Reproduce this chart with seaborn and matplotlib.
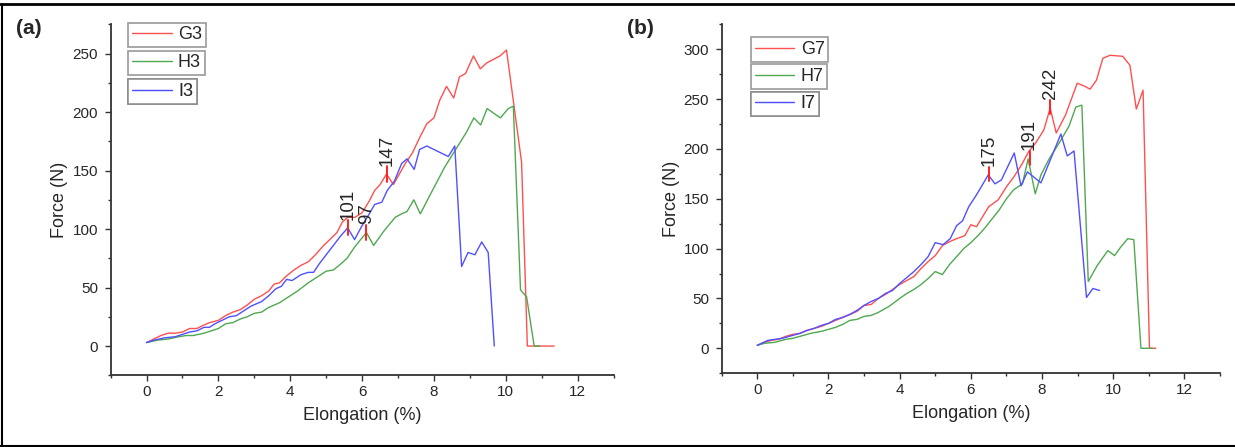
import numpy as np
import pandas as pd
import matplotlib
matplotlib.use('Agg')
import matplotlib.pyplot as plt
from matplotlib.lines import Line2D
from matplotlib.ticker import MultipleLocator
import seaborn as sns

# ---- panel (a) data: elongation (%) vs force (N)
G3_x = [0, 0.2, 0.4, 0.6, 0.8, 1.0, 1.2, 1.4, 1.6, 1.75, 2.0, 2.2, 2.4, 2.6, 2.8, 3.0, 3.2, 3.4, 3.55, 3.7,
        3.9, 4.1, 4.3, 4.5, 4.7, 4.9, 5.1, 5.3, 5.45, 5.6, 5.8, 6.0, 6.2, 6.35, 6.5, 6.68, 6.87, 7.0, 7.2, 7.4,
        7.6, 7.8, 8.0, 8.16, 8.35, 8.55, 8.71, 8.88, 9.1, 9.29, 9.47, 9.84, 10.02, 10.44, 10.6, 11.35]
G3_y = [3, 6, 9, 11, 11, 12, 15, 15, 18, 20, 22, 26, 29, 31, 35, 40, 43, 47, 53, 54,
        60, 65, 69, 72, 78, 85, 91, 97, 106, 110, 110, 114, 124, 133, 138, 147, 138, 145, 156, 165,
        178, 190, 195, 210, 222, 212, 230, 233, 248, 237, 242, 248, 253, 157, 0, 0]

H3_x = [0, 0.3, 0.6, 0.9, 1.1, 1.3, 1.6, 1.8, 2.0, 2.2, 2.4, 2.6, 2.8, 3.0, 3.2, 3.4, 3.7, 4.0, 4.2, 4.5,
        4.8, 5.0, 5.2, 5.4, 5.58, 5.8, 6.12, 6.32, 6.6, 6.92, 7.1, 7.25, 7.44, 7.62, 7.89, 8.3, 8.91, 9.11,
        9.3, 9.48, 9.85, 10.07, 10.21, 10.41, 10.58, 10.79, 10.95]
H3_y = [3, 5, 6, 8, 9, 9, 11, 13, 15, 19, 20, 23, 25, 28, 29, 33, 37, 43, 47, 54,
        60, 64, 65, 70, 75, 85, 97, 86, 98, 110, 113, 115, 125, 113, 129, 153, 183, 195,
        189, 203, 195, 203, 205, 48, 42, 0, 0]

I3_x = [0, 0.2, 0.5, 0.8, 1.0, 1.2, 1.4, 1.6, 1.75, 1.9, 2.1, 2.3, 2.5, 2.7, 2.9, 3.2, 3.4, 3.6, 3.75, 3.9,
        4.05, 4.3, 4.5, 4.65, 4.8, 5.0, 5.2, 5.4, 5.6, 5.79, 6.0, 6.2, 6.35, 6.55, 6.7, 6.9, 7.1, 7.25, 7.45,
        7.6, 7.8, 8.0, 8.2, 8.4, 8.58, 8.77, 8.95, 9.14, 9.33, 9.51, 9.68]
I3_y = [3, 5, 7, 8, 10, 12, 13, 16, 16, 19, 22, 25, 26, 30, 34, 38, 43, 49, 51, 57,
        56, 61, 63, 63, 70, 78, 86, 94, 101, 91, 103, 113, 121, 123, 133, 141, 156, 160, 151,
        168, 171, 168, 165, 162, 171, 68, 80, 78, 89, 80, 0]

# ---- panel (b) data
G7_x = [0, 0.2, 0.4, 0.6, 0.8, 1.0, 1.2, 1.4, 1.6, 1.8, 2.0, 2.2, 2.4, 2.6, 2.8, 3.0, 3.2, 3.4, 3.6, 3.8,
        4.0, 4.2, 4.4, 4.6, 4.8, 5.0, 5.2, 5.4, 5.6, 5.83, 6.0, 6.16, 6.5, 6.77, 7.0, 7.21, 7.44, 7.62, 7.82,
        8.05, 8.23, 8.4, 8.66, 8.99, 9.2, 9.35, 9.53, 9.71, 9.91, 10.27, 10.47, 10.65, 10.84, 11.02, 11.2]
G7_y = [3, 6, 8, 9, 12, 14, 15, 18, 20, 22, 25, 28, 31, 34, 37, 43, 44, 50, 54, 59,
        64, 68, 72, 80, 87, 93, 103, 107, 110, 113, 124, 122, 142, 149, 162, 172, 185, 197, 206,
        219, 241, 216, 234, 266, 263, 260, 269, 291, 294, 293, 284, 240, 259, 0, 0]

H7_x = [0, 0.2, 0.5, 0.8, 1.0, 1.3, 1.5, 1.8, 2.0, 2.2, 2.4, 2.6, 2.8, 3.0, 3.2, 3.4, 3.7, 4.0, 4.2, 4.4,
        4.6, 4.8, 5.0, 5.2, 5.4, 5.6, 5.8, 6.0, 6.2, 6.4, 6.6, 6.8, 7.0, 7.2, 7.45, 7.61, 7.81, 7.97, 8.2,
        8.5, 8.76, 8.95, 9.12, 9.3, 9.55, 9.85, 10.04, 10.22, 10.41, 10.58, 10.78, 11.11]
H7_y = [3, 5, 6, 9, 10, 13, 15, 17, 19, 21, 24, 28, 29, 32, 33, 36, 42, 50, 55, 59,
        64, 70, 77, 74, 84, 92, 100, 106, 113, 121, 130, 139, 150, 159, 165, 190, 155, 174, 190,
        207, 223, 242, 244, 67, 83, 98, 93, 102, 110, 109, 0, 0]

I7_x = [0, 0.3, 0.5, 0.7, 1.0, 1.2, 1.4, 1.6, 1.8, 2.0, 2.2, 2.4, 2.6, 2.8, 3.0, 3.2, 3.4, 3.6, 3.8, 4.0,
        4.2, 4.4, 4.6, 4.8, 5.0, 5.22, 5.42, 5.6, 5.77, 5.94, 6.16, 6.49, 6.68, 6.86, 7.22, 7.41, 7.59,
        7.97, 8.53, 8.71, 8.9, 9.25, 9.43, 9.62]
I7_y = [3, 8, 9, 10, 13, 15, 18, 20, 23, 25, 29, 31, 34, 38, 43, 47, 50, 55, 58, 65,
        71, 77, 84, 92, 106, 104, 110, 123, 128, 142, 154, 174, 165, 169, 196, 163, 177,
        166, 215, 193, 198, 51, 60, 58]

# peak value labels
a_marks = ['101', '97', '147']
a_mark_x = [5.6, 6.12, 6.7]
a_mark_y = [101, 97, 147]
b_marks = ['175', '191', '242']
b_mark_x = [6.5, 7.65, 8.23]
b_mark_y = [175, 191, 242]

colors = ['#ff5050', '#50a850', '#5050ff']


def long_df(series):
    parts = []
    for name, xs, ys in series:
        parts.append(pd.DataFrame({'x': xs, 'y': ys, 'sample': name}))
    return pd.concat(parts, ignore_index=True)


df_a = long_df([('G3', G3_x, G3_y), ('H3', H3_x, H3_y), ('I3', I3_x, I3_y)])
df_b = long_df([('G7', G7_x, G7_y), ('H7', H7_x, H7_y), ('I7', I7_x, I7_y)])

sns.set_style('ticks')
plt.rcParams['font.family'] = ['Liberation Sans', 'DejaVu Sans']

fig = plt.figure(figsize=(12.35, 4.47), dpi=100)
ax_a = fig.add_axes([0.0896, 0.1604, 0.4072, 0.7852])
ax_b = fig.add_axes([0.5844, 0.1651, 0.4034, 0.7803])


def draw_panel(ax, df, names, ylim, marks, mx, my, half, leg_pos):
    sns.lineplot(data=df, x='x', y='y', hue='sample', hue_order=names, palette=colors,
                 estimator=None, errorbar=None, legend=False, linewidth=1.0, ax=ax)
    ax.set_xlim(-1, 13)
    ax.set_ylim(*ylim)
    ax.xaxis.set_major_locator(MultipleLocator(2))
    ax.xaxis.set_minor_locator(MultipleLocator(1))
    ax.yaxis.set_major_locator(MultipleLocator(50))
    ax.yaxis.set_minor_locator(MultipleLocator(25))
    ax.tick_params(which='both', direction='out', color='#333333', width=1.0, labelsize=11)
    ax.tick_params(which='major', length=4)
    ax.tick_params(which='minor', length=2.5)
    ax.tick_params(axis='x', pad=3)
    ax.tick_params(axis='y', pad=5)
    for s in ['top', 'right']:
        ax.spines[s].set_visible(False)
    for s in ['left', 'bottom']:
        ax.spines[s].set_linewidth(1.3)
        ax.spines[s].set_color('#333333')
    ax.set_xlabel('Elongation (%)', fontsize=13, labelpad=6)
    ax.set_ylabel('Force (N)', fontsize=13, labelpad=3)

    for lbl, x, y in zip(marks, mx, my):
        ax.plot([x, x], [y - half, y + half], color='#ff2020', lw=1.4)
        ax.annotate(lbl, (x, y + half), xytext=(0, 0.5), textcoords='offset points',
                    rotation=90, ha='center', va='bottom', fontsize=13.5)

    lines = ax.get_lines()[:3]
    for line, name, (lx, ly) in zip(lines, names, leg_pos):
        leg = ax.legend(handles=[line], labels=[name], loc='upper left',
                        bbox_to_anchor=(lx, ly), bbox_transform=fig.transFigure,
                        frameon=True, fancybox=False, borderpad=0.2, handlelength=2.2,
                        handletextpad=0.35, borderaxespad=0, fontsize=13)
        leg.get_frame().set_edgecolor('#808080')
        leg.get_frame().set_linewidth(1.2)
        ax.add_artist(leg)


draw_panel(ax_a, df_a, ['G3', 'H3', 'I3'], (-25, 275), a_marks, a_mark_x, a_mark_y, 6.5,
           [(0.1039, 0.9492), (0.1039, 0.8866), (0.1039, 0.8226)])
draw_panel(ax_b, df_b, ['G7', 'H7', 'I7'], (-25, 325), b_marks, b_mark_x, b_mark_y, 7.0,
           [(0.6081, 0.9166), (0.6081, 0.8561), (0.6081, 0.7949)])

fig.text(0.013, 0.937, '(a)', fontsize=15, fontweight='bold', va='center')
fig.text(0.508, 0.937, '(b)', fontsize=15, fontweight='bold', va='center')

# outer frame lines (top, left, bottom)
fig.add_artist(Line2D([0, 1], [0.9915, 0.9915], transform=fig.transFigure, color='black', lw=2))
fig.add_artist(Line2D([0.0018, 0.0018], [0.002, 0.9915], transform=fig.transFigure, color='black', lw=1.5))
fig.add_artist(Line2D([0, 1], [0.0025, 0.0025], transform=fig.transFigure, color='black', lw=1.5))

fig.savefig('out.png', dpi=100)
